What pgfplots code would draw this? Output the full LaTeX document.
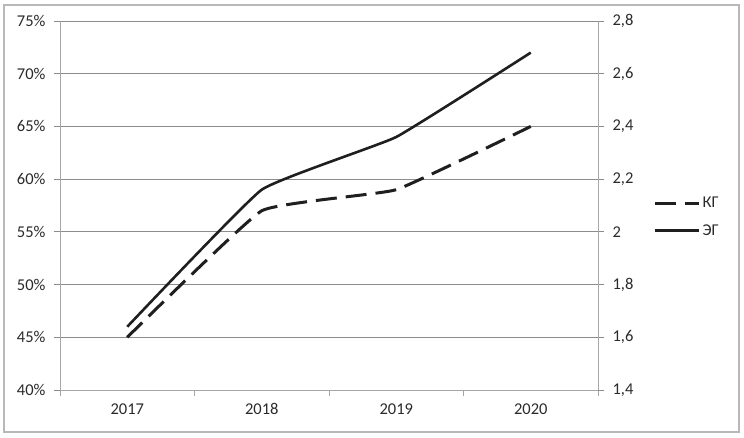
\documentclass[border=0pt]{standalone}
\usepackage{fontspec}
\setmainfont{Carlito}
\usepackage{pgfplots}
\pgfplotsset{compat=1.18}
\definecolor{gridc}{HTML}{8C8C8C}
\definecolor{axc}{HTML}{A6A6A6}
\definecolor{txt}{HTML}{2A2A2A}
\begin{document}
\begin{tikzpicture}[x=1pt,y=1pt]
\path (0,0) rectangle (744,437);
\draw[color=axc!80, line width=1.5pt] (4,5) rectangle (739,432);
\begin{axis}[at={(60pt,47pt)}, anchor=south west, scale only axis,
  width=538pt, height=369pt,
  xmin=0.5, xmax=4.5, ymin=40, ymax=75,
  axis y line*=left, axis x line*=bottom,
  axis line style={draw=axc, line width=0.9pt},
  xtick={1,2,3,4}, xticklabels={2017,2018,2019,2020},
  major x tick style={draw=none},
  minor xtick={0.5,1.5,2.5,3.5,4.5},
  minor x tick style={draw=axc, line width=0.9pt},
  minor tick length=6pt,
  major tick length=6pt,
  tick align=outside,
  ytick={40,45,50,55,60,65,70,75},
  ytick style={draw=gridc, line width=0.9pt},
  /pgf/number format/assume math mode=true,
  yticklabel={\pgfmathprintnumber{\tick}\%},
  ymajorgrids, grid style={draw=gridc, line width=0.9pt},
  tick label style={font=\fontsize{16.5}{19}\selectfont, color=txt},
  xticklabel style={yshift=-4pt},
  yticklabel style={xshift=-5pt},
  legend style={draw=none, fill=none, at={(1.103,0.469)}, anchor=west,
    row sep=11pt, font=\fontsize{16.5}{19}\selectfont, text=txt,
    inner sep=0pt, nodes={inner sep=2pt}},
  legend cell align=left,
  legend image code/.code={\draw[#1] (0pt,0pt) -- (44pt,0pt);},
]
\addplot[line width=3pt, color=black!88, dash pattern=on 21pt off 9pt, smooth, tension=0.2] coordinates {(1,45) (2,57) (3,59) (4,65)};
\addlegendentry{КГ}
\addplot[line width=2.6pt, color=black!88, smooth, tension=0.2] coordinates {(1,46) (2,59) (3,64) (4,72)};
\addlegendentry{ЭГ}
\end{axis}
\begin{axis}[at={(60pt,47pt)}, anchor=south west, scale only axis,
  width=538pt, height=369pt,
  xmin=0.5, xmax=4.5, ymin=1.4, ymax=2.8,
  axis y line*=right, axis x line=none,
  axis line style={draw=axc, line width=0.9pt},
  ytick={1.4,1.6,1.8,2.0,2.2,2.4,2.6,2.8},
  ytick style={draw=gridc, line width=0.9pt},
  tick align=outside, major tick length=6pt,
  /pgf/number format/assume math mode=true,
  /pgf/number format/use comma,
  /pgf/number format/fixed,
  /pgf/number format/precision=1,
  tick label style={font=\fontsize{16.5}{19}\selectfont, color=txt},
  yticklabel style={xshift=5pt},
]
\addplot[draw=none] coordinates {(1,2)};
\end{axis}
\end{tikzpicture}
\end{document}
